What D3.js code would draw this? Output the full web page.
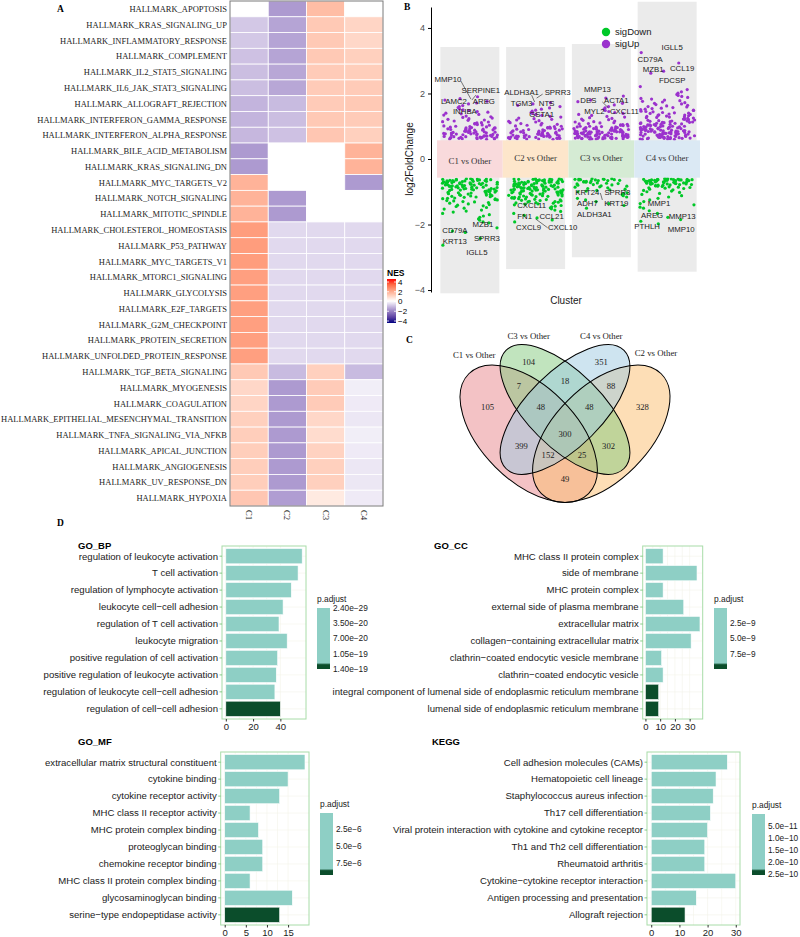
<!DOCTYPE html>
<html>
<head>
<meta charset="utf-8">
<script src="https://cdn.jsdelivr.net/npm/d3@7"></script>
<style>
body { margin: 0; background: #fff; }
svg { display: block; }
</style>
</head>
<body>
<div id="chart"></div>
<script>
// ================= DATA =================
// A: hallmark NES heatmap
var hallmarks = ["HALLMARK_APOPTOSIS", "HALLMARK_KRAS_SIGNALING_UP", "HALLMARK_INFLAMMATORY_RESPONSE",
	"HALLMARK_COMPLEMENT", "HALLMARK_IL2_STAT5_SIGNALING", "HALLMARK_IL6_JAK_STAT3_SIGNALING",
	"HALLMARK_ALLOGRAFT_REJECTION", "HALLMARK_INTERFERON_GAMMA_RESPONSE", "HALLMARK_INTERFERON_ALPHA_RESPONSE",
	"HALLMARK_BILE_ACID_METABOLISM", "HALLMARK_KRAS_SIGNALING_DN", "HALLMARK_MYC_TARGETS_V2",
	"HALLMARK_NOTCH_SIGNALING", "HALLMARK_MITOTIC_SPINDLE", "HALLMARK_CHOLESTEROL_HOMEOSTASIS",
	"HALLMARK_P53_PATHWAY", "HALLMARK_MYC_TARGETS_V1", "HALLMARK_MTORC1_SIGNALING", "HALLMARK_GLYCOLYSIS",
	"HALLMARK_E2F_TARGETS", "HALLMARK_G2M_CHECKPOINT", "HALLMARK_PROTEIN_SECRETION",
	"HALLMARK_UNFOLDED_PROTEIN_RESPONSE", "HALLMARK_TGF_BETA_SIGNALING", "HALLMARK_MYOGENESIS",
	"HALLMARK_COAGULATION", "HALLMARK_EPITHELIAL_MESENCHYMAL_TRANSITION", "HALLMARK_TNFA_SIGNALING_VIA_NFKB",
	"HALLMARK_APICAL_JUNCTION", "HALLMARK_ANGIOGENESIS", "HALLMARK_UV_RESPONSE_DN", "HALLMARK_HYPOXIA"];
var clusters = ["C1", "C2", "C3", "C4"];
var nesC1 = [0, -0.8, -0.8, -0.9, -0.95, -0.95, -1.1, -1.1, -1.05, -1.5, -1.5, 1.6, 1.6, 1.6, 2.05, 2.05, 2.05, 2.0, 2.0, 2.0, 2.0, 2.0, 2.0, 1.15, 0.85, 0.9, 1.0, 1.05, 1.05, 1.05, 1.05, 1.2];
var nesC2 = [-1.5, -1.35, -1.35, -1.35, -1.3, -1.3, -1.0, -0.95, -0.9, 0, 0, 0, -1.5, -1.5, -0.55, -0.55, -0.55, -0.55, -0.55, -0.55, -0.55, -0.55, -0.55, -1.0, -1.5, -1.5, -1.5, -1.5, -1.5, -1.5, -1.5, -1.45];
var nesC3 = [1.4, 1.15, 1.15, 1.15, 1.1, 1.1, 1.1, 1.15, 1.2, 0, 0, 0, 0, 0, -0.55, -0.55, -0.55, -0.55, -0.55, -0.55, -0.55, -0.55, -0.55, 1.0, 1.1, 1.1, 0.85, 0.75, 0.95, 1.0, 1.0, 0.45];
var nesC4 = [0, 0.9, 0.85, 1.0, 1.05, 1.1, 1.15, 1.1, 1.0, 1.6, 1.6, -1.5, 0, 0, -0.55, -0.55, -0.55, -0.55, -0.55, -0.55, -0.55, -0.55, -0.55, -1.0, -0.25, -0.3, -0.35, -0.25, -0.3, -0.35, -0.35, -0.3];
var nesTicks = [4, 2, 0, -2, -4];

// B: log2FoldChange per cluster vs other
var volNames = ["C1 vs Other", "C2 vs Other", "C3 vs Other", "C4 vs Other"];
var rangeTop = [3.42, 3.42, 3.51, 4.8];
var rangeBottom = [-4.1, -3.36, -3.0, -3.44];
var volTicks = [-4, -2, 0, 2, 4];
var c1Up = [1.90, 1.84, 1.80, 1.76, 1.71, 1.68, 1.63, 1.60, 1.57, 1.53, 1.50, 1.48, 1.45, 1.43, 1.40, 1.38, 1.36, 1.34, 1.31, 1.29, 1.27, 1.25, 1.23, 1.21, 1.19, 1.18, 1.16, 1.14, 1.13, 1.11, 1.10, 1.08, 1.07, 1.05, 1.04, 1.03, 1.01, 1.00, .99, .98, .97, .96, .95, .95, .94, .93, .92, .91, .91, .90, .89, .88, .88, .87, .86, .85, .85, .84, .83, .83, .82, .81, .81, .80, .79, .79, .78, .77, .77, .76, .76, .75, .74, .74, .73, .73, .72, .71, .71, .70, .70, .69, .69, .68, .68, .67, .67, .66, .66, .65, .65, .64, .64, .63, .63, .62, .62, .61, .61, .60];
var c2Up = [1.72, 1.68, 1.64, 1.60, 1.56, 1.52, 1.49, 1.46, 1.42, 1.39, 1.36, 1.33, 1.30, 1.28, 1.25, 1.23, 1.21, 1.19, 1.17, 1.15, 1.13, 1.11, 1.09, 1.08, 1.06, 1.04, 1.03, 1.01, 1.00, .99, .97, .96, .95, .94, .93, .92, .91, .90, .89, .88, .87, .87, .86, .85, .84, .83, .83, .82, .81, .80, .80, .79, .78, .78, .77, .76, .76, .75, .74, .74, .73, .73, .72, .71, .71, .70, .70, .69, .69, .68, .68, .67, .67, .66, .66, .65, .65, .64, .64, .63, .63, .62, .62, .61, .61, .60];
var c3Up = [1.92, 1.86, 1.80, 1.75, 1.70, 1.65, 1.60, 1.56, 1.52, 1.48, 1.45, 1.42, 1.39, 1.36, 1.33, 1.30, 1.28, 1.26, 1.24, 1.22, 1.20, 1.18, 1.16, 1.14, 1.13, 1.11, 1.10, 1.08, 1.07, 1.06, 1.05, 1.04, 1.03, 1.02, 1.01, 1.00, 1.00, .99, .98, .98, .97, .96, .96, .95, .94, .94, .93, .93, .92, .91, .91, .90, .90, .89, .89, .88, .88, .87, .87, .86, .86, .85, .85, .84, .84, .83, .83, .83, .82, .82, .81, .81, .80, .80, .80, .79, .79, .78, .78, .78, .77, .77, .76, .76, .76, .75, .75, .74, .74, .74, .73, .73, .72, .72, .72, .71, .71, .71, .70, .70, .69, .69, .69, .68, .68, .68, .67, .67, .66, .66, .66, .65, .65, .65, .64, .64, .63, .63, .63, .62, .62, .62, .61, .61, .61, .60, .60];
var c4Up = [3.25, 2.93, 2.68, 2.62, 2.21, 2.12, 2.05, 2.01, 1.97, 1.94, 1.91, 1.88, 1.85, 1.83, 1.80, 1.78, 1.76, 1.74, 1.72, 1.70, 1.68, 1.66, 1.64, 1.62, 1.60, 1.59, 1.57, 1.55, 1.54, 1.52, 1.51, 1.49, 1.48, 1.46, 1.45, 1.44, 1.42, 1.41, 1.40, 1.39, 1.37, 1.36, 1.35, 1.34, 1.33, 1.32, 1.31, 1.30, 1.29, 1.28, 1.27, 1.26, 1.25, 1.24, 1.23, 1.22, 1.21, 1.20, 1.19, 1.18, 1.17, 1.16, 1.16, 1.15, 1.14, 1.13, 1.12, 1.12, 1.11, 1.10, 1.09, 1.09, 1.08, 1.07, 1.06, 1.06, 1.05, 1.04, 1.04, 1.03, 1.02, 1.02, 1.01, 1.00, 1.00, .99, .99, .98, .97, .97, .96, .96, .95, .95, .94, .94, .93, .93, .92, .92, .91, .91, .90, .90, .89, .89, .88, .88, .87, .87, .86, .86, .85, .85, .84, .84, .83, .83, .82, .82, .81, .81, .80, .80, .79, .79, .78, .78, .77, .77, .76, .76, .75, .75, .74, .74, .73, .73, .72, .72, .71, .71, .70, .70, .69, .69, .68, .68, .67, .67, .66, .66, .65, .65, .64, .64, .63, .63, .62, .62, .61, .61, .60, .60];
var c1Down = [-2.63, -2.42, -2.24, -2.20, -2.10, -1.95, -1.92, -1.87, -1.83, -1.78, -1.74, -1.70, -1.66, -1.62, -1.59, -1.56, -1.53, -1.50, -1.48, -1.45, -1.43, -1.41, -1.39, -1.37, -1.35, -1.33, -1.31, -1.30, -1.28, -1.27, -1.25, -1.24, -1.22, -1.21, -1.20, -1.19, -1.17, -1.16, -1.15, -1.14, -1.13, -1.12, -1.11, -1.10, -1.09, -1.08, -1.07, -1.06, -1.05, -1.04, -1.03, -1.02, -1.01, -1.00, -1.00, -.99, -.98, -.97, -.97, -.96, -.95, -.94, -.94, -.93, -.92, -.92, -.91, -.90, -.90, -.89, -.88, -.88, -.87, -.86, -.86, -.85, -.85, -.84, -.83, -.83, -.82, -.82, -.81, -.80, -.80, -.79, -.79, -.78, -.78, -.77, -.77, -.76, -.76, -.75, -.75, -.74, -.74, -.73, -.73, -.72, -.72, -.71, -.71, -.70, -.70, -.69, -.69, -.68, -.68, -.67, -.67, -.66, -.66, -.65, -.65, -.64, -.64, -.63, -.63, -.62, -.62, -.61, -.61, -.60, -.60];
var c2Down = [-1.92, -1.86, -1.80, -1.72, -1.66, -1.60, -1.56, -1.52, -1.49, -1.46, -1.44, -1.42, -1.40, -1.38, -1.37, -1.35, -1.34, -1.33, -1.32, -1.31, -1.30, -1.29, -1.28, -1.27, -1.26, -1.25, -1.24, -1.23, -1.22, -1.21, -1.20, -1.19, -1.18, -1.17, -1.16, -1.16, -1.15, -1.14, -1.13, -1.13, -1.12, -1.11, -1.10, -1.10, -1.09, -1.08, -1.07, -1.07, -1.06, -1.05, -1.05, -1.04, -1.03, -1.03, -1.02, -1.01, -1.01, -1.00, -1.00, -.99, -.98, -.98, -.97, -.97, -.96, -.95, -.95, -.94, -.94, -.93, -.93, -.92, -.92, -.91, -.91, -.90, -.90, -.89, -.89, -.88, -.88, -.87, -.87, -.86, -.86, -.85, -.85, -.84, -.84, -.83, -.83, -.82, -.82, -.81, -.81, -.80, -.80, -.79, -.79, -.78, -.78, -.77, -.77, -.76, -.76, -.75, -.75, -.74, -.74, -.73, -.73, -.72, -.72, -.71, -.71, -.70, -.70, -.69, -.69, -.68, -.68, -.67, -.67, -.66, -.66, -.65, -.65, -.64, -.64, -.63, -.63, -.62, -.62, -.61, -.61, -.60, -.60];
var c3Down = [-1.50, -1.42, -1.36, -1.30, -1.25, -1.20, -1.16, -1.12, -1.09, -1.06, -1.03, -1.00, -.98, -.96, -.94, -.92, -.90, -.88, -.86, -.85, -.83, -.82, -.80, -.79, -.78, -.76, -.75, -.74, -.73, -.72, -.71, -.70, -.69, -.68, -.67, -.66, -.66, -.65, -.64, -.64, -.63, -.63, -.62, -.62, -.61, -.61, -.60, -.60];
var c4Down = [-1.98, -1.90, -1.85, -1.78, -1.66, -1.58, -1.50, -1.47, -1.40, -1.36, -1.30, -1.25, -1.20, -1.16, -1.12, -1.08, -1.05, -1.02, -1.00, -.98, -.96, -.94, -.92, -.90, -.89, -.88, -.87, -.86, -.85, -.84, -.83, -.82, -.81, -.80, -.80, -.79, -.78, -.78, -.77, -.76, -.76, -.75, -.75, -.74, -.74, -.73, -.73, -.72, -.72, -.71, -.71, -.70, -.70, -.69, -.69, -.68, -.68, -.67, -.67, -.67, -.66, -.66, -.66, -.65, -.65, -.65, -.64, -.64, -.64, -.63, -.63, -.63, -.62, -.62, -.62, -.61, -.61, -.61, -.60, -.60, -.60];
var upGenes = [["MMP10", "SERPINE1", "LAMC2", "AREG", "INHBA"], ["ALDH3A1", "SPRR3", "TGM3", "NTS", "GSTA1"],
	["MMP13", "DES", "ACTA1", "MYL2", "CXCL11"], ["IGLL5", "CD79A", "MZB1", "CCL19", "FDCSP"]];
var downGenes = [["MZB1", "CD79A", "KRT13", "SPRR3", "IGLL5"], ["CXCL11", "FN1", "CCL21", "CXCL9", "CXCL10"],
	["KRT24", "SPRR3", "ADH7", "KRT19", "ALDH3A1"], ["MMP1", "AREG", "MMP13", "PTHLH", "MMP10"]];

// C: Venn counts
var vennSets = ["C1 vs Other", "C3 vs Other", "C4 vs Other", "C2 vs Other"];
var vennCounts = [104, 351, 7, 18, 88, 105, 48, 48, 328, 300, 399, 302, 152, 25, 49];

// D: enrichment
var bpTerms = ["regulation of leukocyte activation", "T cell activation", "regulation of lymphocyte activation",
	"leukocyte cell\u2212cell adhesion", "regulation of T cell activation", "leukocyte migration",
	"positive regulation of cell activation", "positive regulation of leukocyte activation",
	"regulation of leukocyte cell\u2212cell adhesion", "regulation of cell\u2212cell adhesion"];
var bpCount = [56, 53, 48, 42, 39, 45, 38, 37, 36, 40];
var bpP = [2.4e-29, 3.0e-28, 5.1e-26, 1.2e-24, 4.4e-23, 8.0e-23, 1.5e-22, 3.2e-22, 6.7e-22, 1.4e-19];
var bpXTicks = [0, 20, 40];
var bpPTicks = [2.4e-29, 3.5e-20, 7.0e-20, 1.05e-19, 1.4e-19];

var ccTerms = ["MHC class II protein complex", "side of membrane", "MHC protein complex",
	"external side of plasma membrane", "extracellular matrix", "collagen\u2212containing extracellular matrix",
	"clathrin\u2212coated endocytic vesicle membrane", "clathrin\u2212coated endocytic vesicle",
	"integral component of lumenal side of endoplasmic reticulum membrane",
	"lumenal side of endoplasmic reticulum membrane"];
var ccCount = [12, 35, 12, 26, 37, 31, 11, 12, 9, 9];
var ccP = [1.0e-10, 2.2e-10, 4.1e-10, 6.3e-10, 8.5e-10, 1.2e-9, 2.0e-9, 2.6e-9, 9.9e-9, 9.9e-9];
var ccXTicks = [0, 10, 20, 30];
var ccPTicks = [2.5e-9, 5.0e-9, 7.5e-9];

var mfTerms = ["extracellular matrix structural constituent", "cytokine binding", "cytokine receptor activity",
	"MHC class II receptor activity", "MHC protein complex binding", "proteoglycan binding",
	"chemokine receptor binding", "MHC class II protein complex binding", "glycosaminoglycan binding",
	"serine\u2212type endopeptidase activity"];
var mfCount = [19, 15, 13, 6, 8, 9, 9, 6, 16, 13];
var mfP = [4.0e-8, 1.1e-7, 3.5e-7, 6.2e-7, 9.8e-7, 1.4e-6, 2.1e-6, 2.9e-6, 3.6e-6, 9.3e-6];
var mfXTicks = [0, 5, 10, 15];
var mfPTicks = [2.5e-6, 5.0e-6, 7.5e-6];

var keggTerms = ["Cell adhesion molecules (CAMs)", "Hematopoietic cell lineage", "Staphylococcus aureus infection",
	"Th17 cell differentiation", "Viral protein interaction with cytokine and cytokine receptor",
	"Th1 and Th2 cell differentiation", "Rheumatoid arthritis", "Cytokine\u2212cytokine receptor interaction",
	"Antigen processing and presentation", "Allograft rejection"];
var keggCount = [27, 23, 22, 21, 20, 19, 19, 30, 16, 12];
var keggP = [1.0e-12, 3.4e-12, 8.1e-12, 1.5e-11, 2.2e-11, 3.0e-11, 3.9e-11, 4.6e-11, 5.8e-11, 2.55e-10];
var keggXTicks = [0, 10, 20, 30];
var keggPTicks = [5.0e-11, 1.0e-10, 1.5e-10, 2.0e-10, 2.5e-10];

// ================= SETUP =================
var SERIF = "'Liberation Serif','Times New Roman',serif";
var SANS = "'Liberation Sans',Arial,Helvetica,sans-serif";

var svg = d3.select("#chart").append("svg")
	.attr("width", 800)
	.attr("height", 937);
var defs = svg.append("defs");

function panelLetter(t, x, y) {
	svg.append("text").attr("x", x).attr("y", y)
		.attr("font-family", SERIF).attr("font-weight", "bold").attr("font-size", "9.5px")
		.text(t);
}

// ================= A: HEATMAP =================
var hm = { left: 230, right: 383, top: 1, bottom: 506 };
var hx = d3.scaleBand().domain(clusters).range([hm.left, hm.right]);
var hy = d3.scaleBand().domain(hallmarks).range([hm.top, hm.bottom]);
var nesColor = d3.scaleLinear().domain([-4, 0, 4])
	.range(["navy", "white", "red"])
	.interpolate(d3.interpolateLab)
	.clamp(true);

var nesCols = [nesC1, nesC2, nesC3, nesC4];
var cells = [];
hallmarks.forEach(function (h, i) {
	clusters.forEach(function (c, j) {
		cells.push({ h: h, c: c, v: nesCols[j][i] });
	});
});

var gA = svg.append("g");
gA.selectAll("rect.cell").data(cells).enter()
	.append("rect")
	.attr("class", "cell")
	.attr("x", function (d) { return hx(d.c); })
	.attr("y", function (d) { return hy(d.h); })
	.attr("width", hx.bandwidth())
	.attr("height", hy.bandwidth())
	.attr("fill", function (d) { return nesColor(d.v); })
	.attr("stroke", "#ffffff")
	.attr("stroke-width", 0.8);

gA.append("rect")
	.attr("x", hm.left).attr("y", hm.top)
	.attr("width", hm.right - hm.left).attr("height", hm.bottom - hm.top)
	.attr("fill", "none").attr("stroke", "#7a7a7a").attr("stroke-width", 1);

var rowText = gA.selectAll("text.row").data(hallmarks).enter()
	.append("text")
	.attr("class", "row")
	.attr("x", hm.left - 3)
	.attr("y", function (d) { return hy(d) + hy.bandwidth() / 2; })
	.attr("dy", "0.35em")
	.attr("text-anchor", "end")
	.attr("font-family", SERIF)
	.attr("font-size", "9px")
	.attr("fill", "#222")
	.text(function (d) { return d; });
// the source figure's row labels are drawn horizontally wider than the font; stretch to match
var rowLens = [];
rowText.each(function () { rowLens.push(this.getComputedTextLength()); });
var stretch = (hm.left - 4) / d3.max(rowLens);
rowText.attr("textLength", function (d, i) { return rowLens[i] * stretch; })
	.attr("lengthAdjust", "spacingAndGlyphs");

gA.selectAll("text.col").data(clusters).enter()
	.append("text")
	.attr("class", "col")
	.attr("transform", function (d) {
		return "translate(" + (hx(d) + hx.bandwidth() / 2) + "," + (hm.bottom + 4) + ") rotate(90)";
	})
	.attr("dy", "0.35em")
	.attr("font-family", SERIF)
	.attr("font-size", "8.6px")
	.attr("fill", "#222")
	.text(function (d) { return d; });

panelLetter("A", 57, 12);

// NES legend
var nesY = d3.scaleLinear().domain([-4, 4]).range([321, 282]);
var nesGrad = defs.append("linearGradient").attr("id", "nesGrad")
	.attr("x1", 0).attr("y1", 1).attr("x2", 0).attr("y2", 0);
d3.range(-4, 4.01, 1).forEach(function (v) {
	nesGrad.append("stop").attr("offset", (v + 4) / 8).attr("stop-color", nesColor(v));
});
svg.append("text").attr("x", 387).attr("y", 276)
	.attr("font-family", SANS).attr("font-weight", "bold").attr("font-size", "8.5px").text("NES");
svg.append("rect").attr("x", 387).attr("y", nesY(4) - 3).attr("width", 9)
	.attr("height", nesY(-4) - nesY(4) + 5).attr("fill", "url(#nesGrad)");
nesTicks.forEach(function (t) {
	svg.append("line").attr("x1", 387).attr("x2", 389).attr("y1", nesY(t)).attr("y2", nesY(t))
		.attr("stroke", "#fff").attr("stroke-width", 0.8);
	svg.append("line").attr("x1", 394).attr("x2", 396).attr("y1", nesY(t)).attr("y2", nesY(t))
		.attr("stroke", "#fff").attr("stroke-width", 0.8);
	svg.append("text").attr("x", 398).attr("y", nesY(t)).attr("dy", "0.35em")
		.attr("font-family", SANS).attr("font-size", "8px")
		.text(d3.format("d")(t));
});

// ================= B: VOLCANO / JITTER =================
var vy = d3.scaleLinear().domain([-4.06, 4.64]).range([292, 7]);
var vx = d3.scaleBand().domain(clusters).range([437, 700]);
var gB = svg.append("g");
var colHalf = 29.5;
var bandFills = ["#f9dadc", "#fde6cb", "#d5ebd4", "#dbe9f4"];

gB.selectAll("rect.range").data(clusters).enter()
	.append("rect")
	.attr("x", function (d) { return vx(d) + vx.bandwidth() / 2 - colHalf; })
	.attr("y", function (d, i) { return vy(rangeTop[i]); })
	.attr("width", colHalf * 2)
	.attr("height", function (d, i) { return vy(rangeBottom[i]) - vy(rangeTop[i]); })
	.attr("fill", "#ebebeb");

var upSets = [c1Up, c2Up, c3Up, c4Up];
var downSets = [c1Down, c2Down, c3Down, c4Down];
var pts = [];
clusters.forEach(function (c, j) {
	upSets[j].forEach(function (v, i) { pts.push({ c: c, v: v, i: i, s: 0.13 * j, up: true }); });
	downSets[j].forEach(function (v, i) { pts.push({ c: c, v: v, i: i, s: 0.37 + 0.11 * j, up: false }); });
});
// horizontal jitter: deterministic quadratic Weyl spread across the column
function jit(d) { var n = d.i + 1; return (n * 0.6180339887 + n * n * 0.0213 + d.s) % 1; }
gB.selectAll("circle.pt").data(pts).enter()
	.append("circle")
	.attr("cx", function (d) { return vx(d.c) + vx.bandwidth() / 2 - colHalf + 2 + jit(d) * (colHalf * 2 - 4); })
	.attr("cy", function (d) { return vy(d.v); })
	.attr("r", 1.6)
	.attr("fill", function (d) { return d.up ? "#9b32cd" : "#00c828"; });

gB.selectAll("rect.band").data(clusters).enter()
	.append("rect")
	.attr("x", function (d) { return vx(d); })
	.attr("y", vy(0.57))
	.attr("width", vx.bandwidth())
	.attr("height", vy(-0.57) - vy(0.57))
	.attr("fill", function (d, i) { return bandFills[i]; });

gB.selectAll("text.band").data(volNames).enter()
	.append("text")
	.attr("x", function (d, i) { return vx(clusters[i]) + vx.bandwidth() / 2; })
	.attr("y", function (d, i) { return vy(i === 0 ? -0.06 : 0.04); })
	.attr("dy", "0.35em")
	.attr("text-anchor", "middle")
	.attr("font-family", SERIF)
	.attr("font-size", "8.8px")
	.attr("fill", "#333")
	.text(function (d) { return d; });

// repelled gene labels: [dx from cluster centre (px), label height (log2FC)]
var upLabelPos = [
	[[-22, 2.44], [11, 2.11], [-16, 1.77], [14, 1.77], [-5, 1.47]],
	[[-14, 2.05], [22, 2.05], [-14, 1.71], [11, 1.71], [6, 1.37]],
	[[-4, 2.14], [-13, 1.80], [15, 1.80], [-7, 1.47], [23, 1.47]],
	[[5, 3.42], [-17, 3.05], [-14, 2.75], [15, 2.78], [5, 2.41]]
];
var downLabelPos = [
	[[13, -1.98], [-15, -2.17], [-15, -2.50], [17, -2.41], [7, -2.84]],
	[[-4, -1.40], [-11, -1.74], [16, -1.74], [-7, -2.08], [27, -2.08]],
	[[-14, -1.01], [16, -1.01], [-14, -1.34], [15, -1.34], [-7, -1.68]],
	[[-8, -1.34], [-15, -1.71], [15, -1.74], [-20, -2.05], [14, -2.14]]
];
var geneLab = [];
clusters.forEach(function (c, j) {
	upGenes[j].forEach(function (g, k) { geneLab.push({ c: c, g: g, p: upLabelPos[j][k] }); });
	downGenes[j].forEach(function (g, k) { geneLab.push({ c: c, g: g, p: downLabelPos[j][k] }); });
});
// leader segments [cluster, dx1, v1, dx2, v2]
var segs = [["C1", -9, 2.38, 1, 1.83], ["C1", 2, 1.80, 6, 1.95], ["C2", -4, 1.95, -1, 1.74],
	["C2", 7, 1.98, 1, 1.86], ["C3", 1, 1.74, 7, 1.56], ["C3", -1, -1.04, 1, -1.25], ["C2", 0, -1.83, 12, -2.1]];
gB.selectAll("line.seg").data(segs).enter()
	.append("line")
	.attr("x1", function (d) { return vx(d[0]) + vx.bandwidth() / 2 + d[1]; })
	.attr("y1", function (d) { return vy(d[2]); })
	.attr("x2", function (d) { return vx(d[0]) + vx.bandwidth() / 2 + d[3]; })
	.attr("y2", function (d) { return vy(d[4]); })
	.attr("stroke", "#222").attr("stroke-width", 0.6);
gB.selectAll("text.gene").data(geneLab).enter()
	.append("text")
	.attr("x", function (d) { return vx(d.c) + vx.bandwidth() / 2 + d.p[0]; })
	.attr("y", function (d) { return vy(d.p[1]); })
	.attr("dy", "0.35em")
	.attr("text-anchor", "middle")
	.attr("font-family", SANS)
	.attr("font-size", "7.8px")
	.attr("fill", "#1a1a1a")
	.text(function (d) { return d.g; });

var vAxis = gB.append("g")
	.attr("transform", "translate(431,0)")
	.call(d3.axisLeft(vy).tickValues(volTicks).tickSize(3).tickSizeOuter(0).tickFormat(d3.format("d")));
vAxis.select(".domain").attr("stroke", "#000");
vAxis.selectAll(".tick line").attr("stroke", "#000");
vAxis.selectAll(".tick text").attr("font-family", SANS).attr("font-size", "9px").attr("fill", "#4d4d4d");

gB.append("text")
	.attr("transform", "translate(413," + vy(0) + ") rotate(-90)")
	.attr("text-anchor", "middle")
	.attr("font-family", SANS).attr("font-size", "10px").attr("fill", "#1a1a1a")
	.text("log2FoldChange");
gB.append("text").attr("x", 566).attr("y", 304)
	.attr("text-anchor", "middle")
	.attr("font-family", SANS).attr("font-size", "10px").attr("fill", "#1a1a1a")
	.text("Cluster");

var legB = [["sigDown", "#00c828"], ["sigUp", "#9b32cd"]];
legB.forEach(function (d, i) {
	gB.append("circle").attr("cx", 606).attr("cy", 32 + i * 12).attr("r", 4.2).attr("fill", d[1]);
	gB.append("text").attr("x", 615).attr("y", 32 + i * 12).attr("dy", "0.35em")
		.attr("font-family", SANS).attr("font-size", "9.5px").attr("fill", "#1a1a1a").text(d[0]);
});
panelLetter("B", 404, 10);

// ================= C: VENN =================
var vu = d3.scaleLinear().domain([0, 1]).range([444, 686]);      // unit -> px (x)
var vv = d3.scaleLinear().domain([0, 1]).range([547.4, 305.4]);  // unit -> px (y, up)
var k = vu(1) - vu(0);
// VennDiagram four-set ellipse geometry (unit coords)
var ellipses = [
	{ x: 0.35, y: 0.47, a: 0.35, b: 0.195, rot: 45, fill: "#e8868c" },
	{ x: 0.65, y: 0.47, a: 0.35, b: 0.195, rot: -45, fill: "#fbbd6d" },
	{ x: 0.50, y: 0.57, a: 0.345, b: 0.155, rot: 45, fill: "#83c97d" },
	{ x: 0.50, y: 0.57, a: 0.345, b: 0.155, rot: -45, fill: "#9dc9e1" }
];
var gC = svg.append("g");
gC.selectAll("ellipse.fill").data(ellipses).enter()
	.append("ellipse")
	.attr("cx", function (d) { return vu(d.x); })
	.attr("cy", function (d) { return vv(d.y); })
	.attr("rx", function (d) { return d.a * k; })
	.attr("ry", function (d) { return d.b * k; })
	.attr("transform", function (d) { return "rotate(" + d.rot + "," + vu(d.x) + "," + vv(d.y) + ")"; })
	.attr("fill", function (d) { return d.fill; })
	.attr("fill-opacity", 0.5);
gC.selectAll("ellipse.line").data(ellipses).enter()
	.append("ellipse")
	.attr("cx", function (d) { return vu(d.x); })
	.attr("cy", function (d) { return vv(d.y); })
	.attr("rx", function (d) { return d.a * k; })
	.attr("ry", function (d) { return d.b * k; })
	.attr("transform", function (d) { return "rotate(" + d.rot + "," + vu(d.x) + "," + vv(d.y) + ")"; })
	.attr("fill", "none").attr("stroke", "#000").attr("stroke-width", 1);

var vennPos = [[0.35, 0.766], [0.65, 0.766], [0.31, 0.667], [0.5, 0.688], [0.69, 0.667], [0.18, 0.58],
	[0.40, 0.58], [0.60, 0.58], [0.82, 0.58], [0.5, 0.469], [0.32, 0.419], [0.68, 0.419], [0.43, 0.382],
	[0.57, 0.382], [0.5, 0.283]];
gC.selectAll("text.cnt").data(vennCounts).enter()
	.append("text")
	.attr("x", function (d, i) { return vu(vennPos[i][0]); })
	.attr("y", function (d, i) { return vv(vennPos[i][1]); })
	.attr("dy", "0.35em").attr("text-anchor", "middle")
	.attr("font-family", SERIF).attr("font-size", "8.6px").attr("fill", "#222")
	.text(function (d) { return d; });
var setPos = [[0.125, 0.797], [0.35, 0.873], [0.65, 0.873], [0.876, 0.804]];
gC.selectAll("text.set").data(vennSets).enter()
	.append("text")
	.attr("x", function (d, i) { return vu(setPos[i][0]); })
	.attr("y", function (d, i) { return vv(setPos[i][1]); })
	.attr("dy", "0.35em").attr("text-anchor", "middle")
	.attr("font-family", SERIF).attr("font-size", "8.8px").attr("fill", "#222")
	.text(function (d) { return d; });
panelLetter("C", 406, 343);

// ================= D: ENRICHMENT BARS =================
var TEAL = "#8ecfc5", DARK = "#0b4d2b";
panelLetter("D", 57, 526);

function drawBars(cfg) {
	var g = svg.append("g");
	var maxV = d3.max(cfg.counts), ex = maxV * 0.05;
	var x = d3.scaleLinear().domain([-ex, maxV + ex]).range([cfg.box[0], cfg.box[1]]);
	var y = d3.scalePoint().domain(cfg.terms).range([cfg.box[2], cfg.box[3]]).padding(0.6);
	var step = y.step();
	var pmin = d3.min(cfg.p), pmax = d3.max(cfg.p);
	var col = d3.scaleLinear()
		.domain([pmin, pmin + 0.9 * (pmax - pmin), pmin + 0.93 * (pmax - pmin), pmax])
		.range([TEAL, TEAL, DARK, DARK]);

	// faint grid
	var minor = [];
	cfg.xticks.forEach(function (t, i) {
		if (i > 0) minor.push((t + cfg.xticks[i - 1]) / 2);
	});
	g.selectAll("line.gx").data(cfg.xticks.concat(minor)).enter()
		.append("line")
		.attr("x1", function (d) { return x(d); }).attr("x2", function (d) { return x(d); })
		.attr("y1", cfg.box[2]).attr("y2", cfg.box[3])
		.attr("stroke", "#f4f4ea").attr("stroke-width", 0.6);
	g.selectAll("line.gy").data(cfg.terms).enter()
		.append("line")
		.attr("x1", cfg.box[0]).attr("x2", cfg.box[1])
		.attr("y1", function (d) { return y(d); }).attr("y2", function (d) { return y(d); })
		.attr("stroke", "#f4f4ea").attr("stroke-width", 0.6);

	g.selectAll("rect.bar").data(cfg.terms).enter()
		.append("rect")
		.attr("x", x(0))
		.attr("y", function (d) { return y(d) - step * 0.45; })
		.attr("width", function (d, i) { return x(cfg.counts[i]) - x(0); })
		.attr("height", step * 0.9)
		.attr("fill", function (d, i) { return col(cfg.p[i]); })
		.attr("stroke", "#ffffff").attr("stroke-width", 0.6);

	g.append("rect")
		.attr("x", cfg.box[0]).attr("y", cfg.box[2])
		.attr("width", cfg.box[1] - cfg.box[0]).attr("height", cfg.box[3] - cfg.box[2])
		.attr("fill", "none").attr("stroke", "#a8dca8").attr("stroke-width", 1);

	g.selectAll("line.yt").data(cfg.terms).enter()
		.append("line")
		.attr("x1", cfg.box[0] - 2.5).attr("x2", cfg.box[0])
		.attr("y1", function (d) { return y(d); }).attr("y2", function (d) { return y(d); })
		.attr("stroke", "#6cbf6c").attr("stroke-width", 0.8);
	g.selectAll("text.term").data(cfg.terms).enter()
		.append("text")
		.attr("x", cfg.box[0] - 4)
		.attr("y", function (d) { return y(d); })
		.attr("dy", "0.35em").attr("text-anchor", "end")
		.attr("font-family", SANS).attr("font-size", "9.6px").attr("fill", "#1a1a1a")
		.text(function (d) { return d; });

	var ax = g.append("g")
		.attr("transform", "translate(0," + cfg.box[3] + ")")
		.call(d3.axisBottom(x).tickValues(cfg.xticks).tickSize(2.5).tickSizeOuter(0));
	ax.select(".domain").remove();
	ax.selectAll(".tick line").attr("stroke", "#333");
	ax.selectAll(".tick text").attr("font-family", SANS).attr("font-size", "9.5px").attr("fill", "#222")
		.attr("y", 4);

	g.append("text").attr("x", cfg.title[1]).attr("y", cfg.title[2])
		.attr("font-family", SANS).attr("font-weight", "bold").attr("font-size", "9.5px")
		.text(cfg.title[0]);

	// colour bar legend
	var L = cfg.leg;
	var gid = "grad" + cfg.title[0];
	var grad = defs.append("linearGradient").attr("id", gid)
		.attr("x1", 0).attr("y1", 0).attr("x2", 0).attr("y2", 1);
	[0, 0.9, 0.93, 1].forEach(function (o) {
		grad.append("stop").attr("offset", o).attr("stop-color", col(pmin + o * (pmax - pmin)));
	});
	var ly = d3.scaleLinear().domain([pmin, pmax]).range([L[1], L[2]]);
	g.append("text").attr("x", L[0]).attr("y", L[1] - 6)
		.attr("font-family", SANS).attr("font-size", "8.4px").attr("fill", "#1a1a1a").text("p.adjust");
	g.append("rect").attr("x", L[0]).attr("y", L[1]).attr("width", 13).attr("height", L[2] - L[1])
		.attr("fill", "url(#" + gid + ")");
	var fmt = d3.format(cfg.fmt);
	g.selectAll("text.pt").data(cfg.pticks).enter()
		.append("text")
		.attr("x", L[0] + 16)
		.attr("y", function (d) { return ly(d); })
		.attr("dy", "0.35em")
		.attr("font-family", SANS).attr("font-size", "8.3px").attr("fill", "#1a1a1a")
		.text(function (d) { return fmt(d).replace("-", "\u2212"); });
}

drawBars({ terms: bpTerms, counts: bpCount, p: bpP, xticks: bpXTicks, pticks: bpPTicks, fmt: ".2e",
	box: [222, 306, 546, 719], title: ["GO_BP", 78, 548.5], leg: [317, 608, 669] });
drawBars({ terms: ccTerms, counts: ccCount, p: ccP, xticks: ccXTicks, pticks: ccPTicks, fmt: ".1e",
	box: [642.7, 702.7, 546, 719], title: ["GO_CC", 434, 548.5], leg: [714, 608, 669] });
drawBars({ terms: mfTerms, counts: mfCount, p: mfP, xticks: mfXTicks, pticks: mfPTicks, fmt: ".1e",
	box: [220.7, 309, 752, 925], title: ["GO_MF", 78, 744.5], leg: [320, 813, 875] });
drawBars({ terms: keggTerms, counts: keggCount, p: keggP, xticks: keggXTicks, pticks: keggPTicks, fmt: ".1e",
	box: [647, 740, 752, 925], title: ["KEGG", 432, 744.5], leg: [752, 814, 875] });
</script>
</body>
</html>
